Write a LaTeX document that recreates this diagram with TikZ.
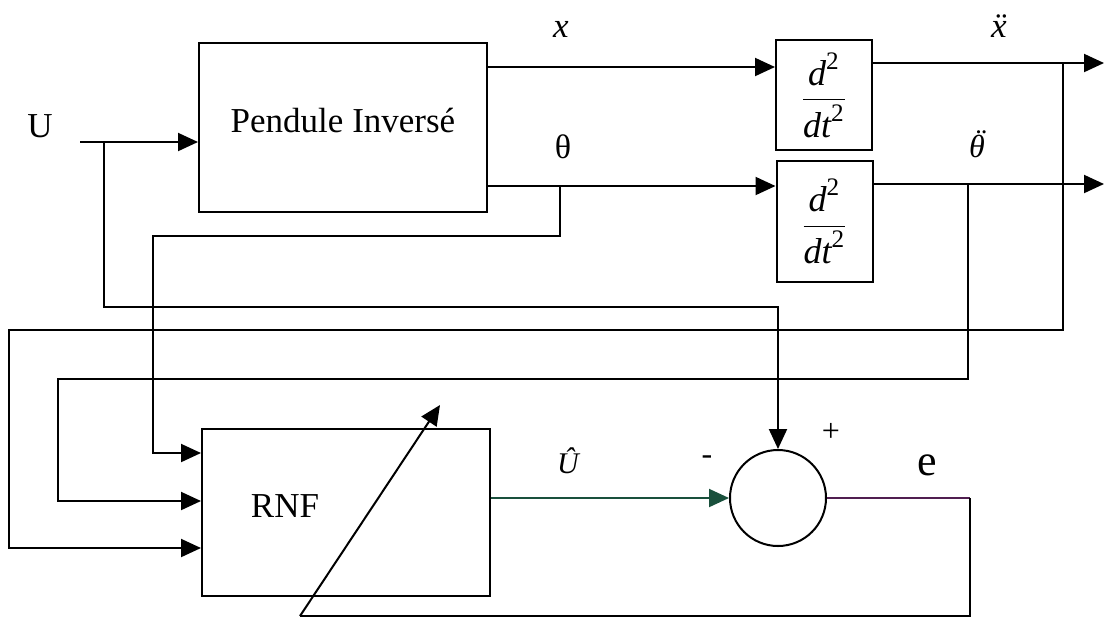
\documentclass[tikz,border=0pt]{standalone}
\usepackage{amsmath}
\usepackage{fontspec}
\setmainfont{Liberation Serif}
\usetikzlibrary{arrows.meta}
\definecolor{ucol}{RGB}{25,80,60}
\definecolor{ecol}{RGB}{80,30,80}
\begin{document}
\begin{tikzpicture}[x=0.5pt,y=-0.5pt,
  wire/.style={line width=1pt, line join=miter},
  arr/.style={wire,-{Triangle[length=10pt,width=9pt]}},
  blk/.style={draw, line width=1pt, inner sep=0pt, text height=6pt, text depth=1.5pt,
              font=\fontsize{17.5}{20}\selectfont},
  dbox/.style={draw, line width=1pt, inner sep=0pt, minimum width=48pt,
              font=\fontsize{18}{21}\selectfont},
  lbl/.style={inner sep=0pt, anchor=base, font=\fontsize{17.5}{20}\selectfont},
]
\useasboundingbox (0,0) rectangle (1104,618);

% blocks
\node[blk, minimum width=144pt, minimum height=84.5pt] (pend) at (343,127.5) {Pendule Invers\'e};
\node[dbox, minimum height=55pt] (d1) at (824,95) {$\dfrac{\textit{d}^{\text{2}}}{\textit{dt}^{\text{2}}}$};
\node[dbox, minimum height=60.5pt] (d2) at (824.5,221.5) {$\dfrac{\textit{d}^{\text{2}}}{\textit{dt}^{\text{2}}}$};
\node[blk, minimum width=144pt, minimum height=83.5pt] (rnf) at (346,512.5) {RNF\hspace*{61pt}};
\node[draw, circle, line width=1pt, minimum size=48pt, inner sep=0pt] (sum) at (778,498) {};

% labels
\node[lbl] (ulbl) at (40,137) {U};
\node[lbl] (xlbl) at (561,37) {\itshape x};
\node[lbl, font=\fontsize{17}{20}\selectfont] (thlbl) at (563,158) {θ};
\node[lbl] (xddlbl) at (999,37) {\itshape\"x};
\node[lbl, font=\fontsize{16}{19}\selectfont] (thddlbl) at (977,157)
  {\itshape\ooalign{θ\cr\hidewidth\kern0.14em\raisebox{0.17em}{\char"A8}\hidewidth\cr}};
\node[lbl, font=\fontsize{15}{18}\selectfont] (uhatlbl) at (568,473) {\itshape\^U};
\node[inner sep=0pt, font=\fontsize{16}{18}\selectfont] (minus) at (707,460) {-};
\node[inner sep=0pt, font=\fontsize{16}{18}\selectfont] (plus) at (831,432) {+};
\node[lbl, font=\fontsize{22}{26}\selectfont] (elbl) at (927,475) {e};

% coordinates
\coordinate (uin) at (80,142);
\coordinate (usplit) at (104,142);
\coordinate (thtap) at (560,186);
\coordinate (xddtap) at (1063,63);
\coordinate (thddtap) at (968,184);
\coordinate (xddout) at (1104,63);
\coordinate (thddout) at (1104,184);
\coordinate (ecorner) at (970,498);
\coordinate (adbase) at (300,616);
\coordinate (adtip) at (440,405);

% connectors
\draw[arr] (uin) -- (pend.west |- uin);
\draw[arr] (usplit) |- (778,307) -- (sum.north);
\draw[arr] (pend.east |- 0,67) -- (d1.west |- 0,67);
\draw[arr] (pend.east |- thtap) -- (d2.west |- thtap);
\draw[arr] (thtap) |- (153,236) |- (rnf.west |- 0,453);
\draw[arr] (d1.east |- xddout) -- (xddout);
\draw[arr] (d2.east |- thddout) -- (thddout);
\draw[arr] (xddtap) |- (9,330) |- (rnf.west |- 0,548);
\draw[arr] (thddtap) |- (58,379) |- (rnf.west |- 0,501);
\draw[arr, ucol] (rnf.east |- sum.west) -- (sum.west);
\draw[wire, ecol] (sum.east) -- (ecorner);
\draw[wire] (ecorner) |- (adbase);
\draw[arr] (adbase) -- (adtip);
\end{tikzpicture}
\end{document}
